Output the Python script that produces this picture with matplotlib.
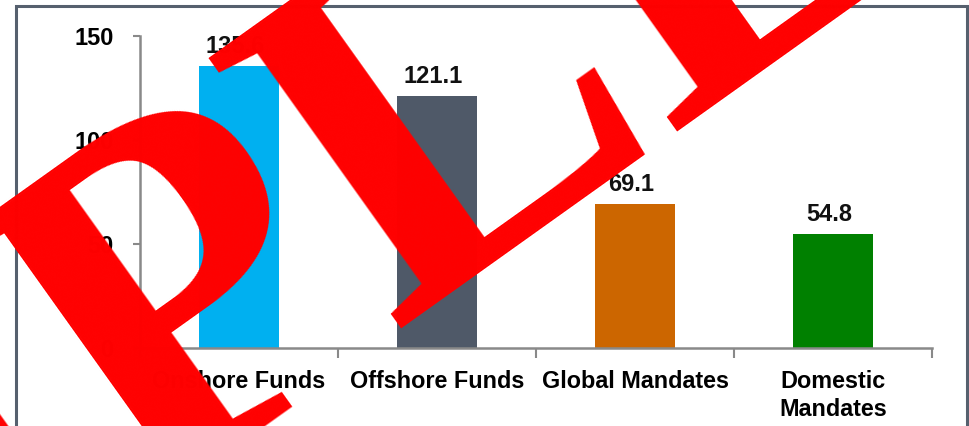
import matplotlib
matplotlib.use("Agg")
import matplotlib.pyplot as plt
from matplotlib.patches import Rectangle

categories = ["Onshore Funds", "Offshore Funds", "Global Mandates", "Domestic\nMandates"]
values = [135.6, 121.1, 69.1, 54.8]
colors = ["#00B0F0", "#4F5968", "#CC6600", "#008000"]
yticks = [0, 50, 100, 150]

plt.rcParams['font.family'] = ['Liberation Sans', 'DejaVu Sans']

W, H = 969, 426
fig = plt.figure(figsize=(W / 100, H / 100), dpi=100)
fig.patch.set_facecolor("white")

# outer frame
fig.add_artist(Rectangle((16 / W, -0.05), (967 - 16) / W, 1 - 6 / H + 0.05,
                         transform=fig.transFigure, fill=False,
                         edgecolor="#56606E", linewidth=2.2, zorder=0))

ax = fig.add_axes([140 / W, 1 - 348 / H, (932 - 140) / W, (348 - 36) / H])
x = list(range(len(categories)))
ax.bar(x, values, width=0.4, color=colors, zorder=2)
for xi, v in zip(x, values):
    ax.text(xi - 0.02, v + 4, f"{v:.1f}", ha="center", va="bottom",
            fontsize=17, fontweight="bold", color="#111111")

ax.set_xlim(-0.5, len(categories) - 0.5)
ax.set_ylim(0, 150)
ax.set_yticks(yticks)
ax.set_yticklabels([str(t) for t in yticks], fontsize=17, fontweight="bold")
ax.tick_params(axis="y", length=5, width=1.5, color="#898989", pad=14)

ax.set_xticks([i - 0.5 for i in range(len(categories) + 1)])
ax.set_xticklabels([])
ax.tick_params(axis="x", which="major", length=7, width=1.5, color="#898989")
ax.set_xticks(x, minor=True)
ax.set_xticklabels(categories, minor=True, fontsize=16.8, fontweight="bold",
                   linespacing=1.25)
ax.tick_params(axis="x", which="minor", length=0, pad=16)

for s in ["top", "right"]:
    ax.spines[s].set_visible(False)
for s in ["left", "bottom"]:
    ax.spines[s].set_color("#898989")
    ax.spines[s].set_linewidth(1.8)
ax.set_facecolor("none")

# watermark
fig.text(9 / W, 1 - 440 / H, "SAMPLE", transform=fig.transFigure,
         ha="center", va="center", rotation=35.5, rotation_mode="anchor",
         fontsize=366, fontweight="bold", family="Liberation Serif",
         color="#FF0000", zorder=10)

fig.savefig("out.png", dpi=100)
